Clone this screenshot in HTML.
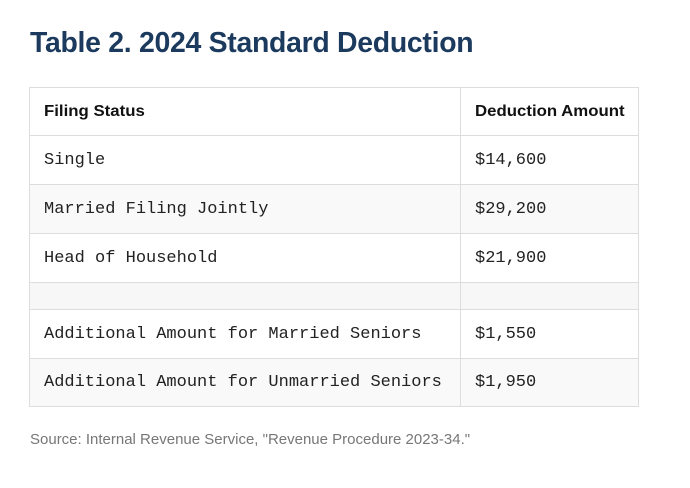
<!DOCTYPE html>
<html><head><style>
body{margin:0;width:690px;height:488px;background:#fff;position:relative;overflow:hidden;font-family:"Liberation Sans",sans-serif}
.t{position:absolute;left:30px;top:27px;font-size:29px;font-weight:bold;color:#1b3a5e;white-space:nowrap;transform:scaleX(0.98);transform-origin:left top;letter-spacing:-0.3px}
.r{position:absolute;left:29px;width:610px;box-sizing:border-box;border:1px solid #ddd;border-top:none}
.r div{position:absolute;top:0;bottom:0;display:flex;align-items:center;white-space:nowrap}
.a{left:14px;font-family:"Liberation Mono",monospace;font-size:17px;color:#222}
.b{left:445px;font-family:"Liberation Mono",monospace;font-size:17px;color:#222}
.v{position:absolute;left:460px;width:1px;top:87px;height:320px;background:#ddd}
.h{font-family:"Liberation Sans",sans-serif!important;font-weight:bold;font-size:16px!important;color:#111;transform:scaleX(1.05);transform-origin:left center}
.s{position:absolute;left:30px;top:431px;font-size:15px;color:#777;white-space:nowrap}
</style></head><body>
<div class="t">Table 2. 2024 Standard Deduction</div>
<div class="r" style="top:87px;height:49px;border-top:1px solid #ddd;background:#fff"><div class="a h">Filing Status</div><div class="b h">Deduction Amount</div></div>
<div class="r" style="top:136px;height:49px;background:#fff"><div class="a">Single</div><div class="b">$14,600</div></div>
<div class="r" style="top:185px;height:49px;background:#f9f9f9"><div class="a">Married Filing Jointly</div><div class="b">$29,200</div></div>
<div class="r" style="top:234px;height:49px;background:#fff"><div class="a">Head of Household</div><div class="b">$21,900</div></div>
<div class="r" style="top:283px;height:27px;background:#f7f7f7"></div>
<div class="r" style="top:310px;height:49px;background:#fff"><div class="a">Additional Amount for Married Seniors</div><div class="b">$1,550</div></div>
<div class="r" style="top:359px;height:48px;background:#f9f9f9"><div class="a">Additional Amount for Unmarried Seniors</div><div class="b">$1,950</div></div>
<div class="v"></div>
<div class="s">Source: Internal Revenue Service, "Revenue Procedure 2023-34."</div>
</body></html>
